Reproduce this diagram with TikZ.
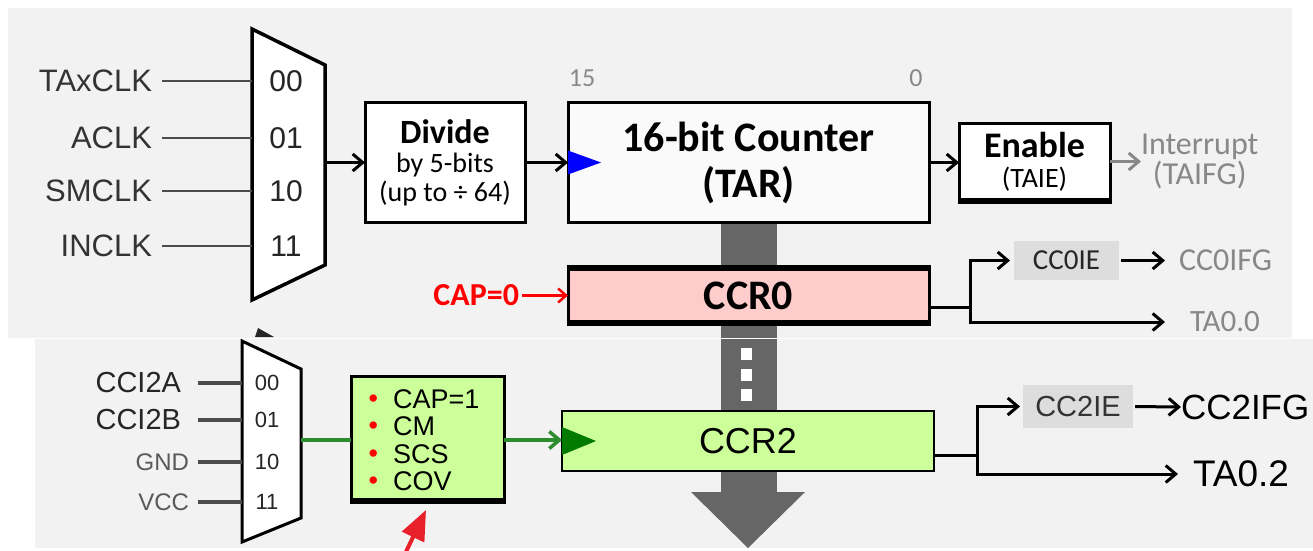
\documentclass[tikz,border=0pt]{standalone}
\usepackage{fontspec}
\setmainfont{Carlito}
\newfontfamily\arialf{Liberation Sans}
\usepackage{tikz}
\usetikzlibrary{arrows.meta, positioning}
\definecolor{panelbg}{RGB}{242,242,242}
\definecolor{busgray}{RGB}{102,102,102}
\definecolor{ccrpink}{RGB}{255,204,204}
\definecolor{capgreen}{RGB}{204,255,153}
\definecolor{darkgrn}{RGB}{0,122,0}
\definecolor{wiregrn}{RGB}{46,139,46}
\definecolor{iebg}{RGB}{221,221,221}
\definecolor{flaggray}{RGB}{136,136,136}
\definecolor{capred}{RGB}{255,0,0}
\definecolor{ptrred}{RGB}{232,32,42}
\newcommand{\fsz}[1]{\fontsize{#1}{#1}\selectfont}
\newcommand{\bul}{\makebox[29.5pt][l]{\hspace{5pt}\raisebox{1pt}{\textcolor{capred}{\fsz{27pt}•}}}}

\begin{document}
\begin{tikzpicture}[x=1pt, y=-1pt,
    every node/.style={inner sep=0pt, outer sep=0pt},
    blk/.style={draw, line width=3pt, rectangle},
    sig/.style={line width=3pt, -{Straight Barb[length=10pt, width=17pt]}},
    srcin/.style={anchor=east, font=\arialf\fsz{31pt}, text=black!80},
    selbit/.style={font=\arialf\fsz{30pt}, text=black!85},
    inwire/.style={line width=2.5pt, black!70},
    flag/.style={anchor=west, font=\fsz{32pt}, text=flaggray}]
    \useasboundingbox (0,0) rectangle (1313,550);
    \fill[panelbg] (8,8) rectangle (1292,338);
    \fill[panelbg] (35,339) rectangle (1313,548);

    % timer bus
    \fill[busgray] (721,222) rectangle (777,338);
    \fill[busgray] (721,339) rectangle (777,492);
    \fill[busgray] (691,492) -- (805,492) -- (748,548) -- cycle;
    \foreach \y in {348,369,389} \fill[white] (741,\y) rectangle (752,\y+12);

    % clock source mux
    \draw[line width=3.5pt, fill=white, line join=miter] (252,29) -- (325,65) -- (325,265) -- (252,300) -- cycle;
    \fill[black!85] (255,337) -- (258,328) -- (274,337) -- cycle;
    \coordinate (ma00) at (252,81);
    \coordinate (ma01) at (252,138);
    \coordinate (ma10) at (252,191);
    \coordinate (ma11) at (252,246);
    \coordinate (maout) at (325,162.5);
    \node[selbit] (sa00) at (286,81) {00};
    \node[selbit] (sa01) at (286,138) {01};
    \node[selbit] (sa10) at (286,191) {10};
    \node[selbit] (sa11) at (286,246) {11};
    \node[srcin] (taxclk) at (152,81) {TAxCLK};
    \node[srcin] (aclk) at (152,138) {ACLK};
    \node[srcin] (smclk) at (152,191) {SMCLK};
    \node[srcin] (inclk) at (152,246) {INCLK};
    \draw[inwire, shorten <=10pt] (taxclk.east) -- (ma00);
    \draw[inwire, shorten <=10pt] (aclk.east) -- (ma01);
    \draw[inwire, shorten <=10pt] (smclk.east) -- (ma10);
    \draw[inwire, shorten <=10pt] (inclk.east) -- (ma11);

    \node[blk, fill=white, minimum width=160pt, minimum height=120pt, align=center,
        font=\fontsize{28pt}{29pt}\selectfont] (div) at (445,162.5)
        {{\fontsize{34pt}{29pt}\selectfont\bfseries Divide}\\by 5-bits\\(up to ÷ 64)};
    \node[blk, fill=black!2, minimum width=361pt, minimum height=120pt, align=center,
        font=\fontsize{42pt}{46pt}\selectfont\bfseries] (cnt) at (748.5,162.5) {16-bit Counter\\(TAR)};
    \fill[blue] ([yshift=12pt]cnt.west) -- ([xshift=33pt]cnt.west) -- ([yshift=-12pt]cnt.west) -- cycle;
    \node[font=\fsz{26pt}, text=flaggray] (b15) at (582,78) {15};
    \node[font=\fsz{26pt}, text=flaggray] (b0) at (916,78) {0};
    \node[blk, fill=white, minimum width=151pt, minimum height=76pt, align=center,
        font=\fontsize{28pt}{30pt}\selectfont] (en) at (1034.5,161.5)
        {{\fontsize{36pt}{30pt}\selectfont\bfseries Enable}\\(TAIE)};
    \draw[line width=5pt] ([xshift=-1.5pt,yshift=-2pt]en.south west) -- ([xshift=1.5pt,yshift=-2pt]en.south east);
    \node[anchor=west, align=center, font=\fontsize{32pt}{30pt}\selectfont, text=flaggray] (intr) at (1141,161) {Interrupt\\(TAIFG)};

    \draw[sig] (maout) -- (maout -| div.west);
    \draw[sig] (div.east) -- (cnt.west);
    \draw[sig] (cnt.east) -- (cnt.east -| en.west);
    \draw[sig, flaggray] (en.east) -- (en.east -| intr.west);

    % capture/compare 0
    \node[blk, fill=ccrpink, minimum width=361pt, minimum height=55pt, font=\fsz{42pt}\bfseries] (ccr0) at (748.5,295.5) {CCR0};
    \draw[line width=6pt] ([xshift=-1.5pt]ccr0.north west) -- ([xshift=1.5pt]ccr0.north east);
    \draw[line width=6pt] ([xshift=-1.5pt]ccr0.south west) -- ([xshift=1.5pt]ccr0.south east);
    \node[anchor=east, font=\fsz{32pt}\bfseries, text=capred] (cap0) at (519,295.5) {CAP=0};
    \draw[line width=2.5pt, capred, -{Straight Barb[length=8pt, width=14pt]}] ([xshift=3pt]cap0.east) -- (cap0.east -| ccr0.west);

    \coordinate (sp0) at (970,307);
    \draw[line width=3pt] (ccr0.east |- sp0) -- (sp0);
    \node[fill=iebg, minimum width=105pt, minimum height=39pt, font=\fsz{29pt}, text=black!85] (cc0ie) at (1066.5,260.5) {CC0IE};
    \node[flag] (cc0ifg) at (1179,260.5) {CC0IFG};
    \node[flag, font=\fsz{31pt}] (ta00) at (1190,322) {TA0.0};
    \draw[sig, shorten >=4pt] (sp0) |- (cc0ie.west);
    \draw[sig, shorten <=2pt, shorten >=14pt] (cc0ie.east) -- (cc0ifg.west);
    \draw[sig, shorten >=25pt] (sp0) |- (ta00.west);

    % capture input mux
    \draw[line width=3pt, fill=white, line join=miter] (242,341) -- (301,369) -- (301,518) -- (242,542) -- cycle;
    \coordinate (mb00) at (242,383);
    \coordinate (mb01) at (242,420);
    \coordinate (mb10) at (242,462);
    \coordinate (mb11) at (242,502);
    \coordinate (mbout) at (301,440);
    \node[selbit, font=\arialf\fsz{22pt}] (sb00) at (267,383) {00};
    \node[selbit, font=\arialf\fsz{22pt}] (sb01) at (267,420) {01};
    \node[selbit, font=\arialf\fsz{22pt}] (sb10) at (267,462) {10};
    \node[selbit, font=\arialf\fsz{22pt}] (sb11) at (267,502) {11};
    \node[srcin, font=\arialf\fsz{29pt}, text=black!85] (cci2a) at (181,383) {CCI2A};
    \node[srcin, font=\arialf\fsz{29pt}, text=black!85] (cci2b) at (181,420) {CCI2B};
    \node[srcin, font=\arialf\fsz{24pt}, text=black!65] (gnd) at (189,462) {GND};
    \node[srcin, font=\arialf\fsz{24pt}, text=black!65] (vcc) at (189,502) {VCC};
    \draw[inwire, line width=3.5pt, shorten <=17pt] (cci2a.east) -- (mb00);
    \draw[inwire, line width=3.5pt, shorten <=17pt] (cci2b.east) -- (mb01);
    \draw[inwire, line width=3.5pt, shorten <=9pt] (gnd.east) -- (mb10);
    \draw[inwire, line width=3.5pt, shorten <=9pt] (vcc.east) -- (mb11);

    \node[blk, fill=capgreen, minimum width=153pt, minimum height=123pt] (gbox) at (427.5,438) {};
    \draw[line width=5pt] ([xshift=-1.5pt,yshift=-2pt]gbox.south west) -- ([xshift=1.5pt,yshift=-2pt]gbox.south east);
    \node[anchor=west, align=left, font=\arialf\fontsize{27pt}{27.5pt}\selectfont] (gopts) at (363.5,440)
        {\bul CAP=1\\\bul CM\\\bul SCS\\\bul COV};
    \draw[line width=3.5pt, wiregrn] (mbout) -- (mbout -| gbox.west);

    % capture/compare 2
    \node[blk, line width=2.5pt, fill=capgreen, minimum width=372pt, minimum height=60pt, font=\arialf\fsz{36pt}] (ccr2) at (748,441) {CCR2};
    \fill[darkgrn] ([yshift=14pt]ccr2.west) -- ([xshift=34pt]ccr2.west) -- ([yshift=-14pt]ccr2.west) -- cycle;
    \draw[line width=3.5pt, wiregrn, -{Straight Barb[length=10pt, width=17pt]}] (mbout -| gbox.east) -- (mbout -| ccr2.west);

    \coordinate (sp2) at (977,455);
    \draw[line width=3pt] (ccr2.east |- sp2) -- (sp2);
    \node[fill=iebg, minimum width=110pt, minimum height=43pt, font=\arialf\fsz{29pt}, text=black!80] (cc2ie) at (1078,406.5) {CC2IE};
    \node[anchor=west, font=\arialf\fsz{35pt}] (cc2ifg) at (1181,407) {CC2IFG};
    \node[anchor=west, font=\arialf\fsz{37pt}] (ta02) at (1193,474) {TA0.2};
    \draw[sig, shorten >=3pt] (sp2) |- (cc2ie.west);
    \draw[sig, shorten <=2pt] (cc2ie.east) -- (cc2ifg.west);
    \draw[sig, shorten >=15pt] (sp2) |- (ta02.west);

    \coordinate (ptrtail) at (403,558);
    \coordinate (ptrtip) at (426,510);
    \draw[line width=4pt, ptrred, -{Triangle[length=30pt, width=24pt]}] (ptrtail) -- (ptrtip);
\end{tikzpicture}
\end{document}
